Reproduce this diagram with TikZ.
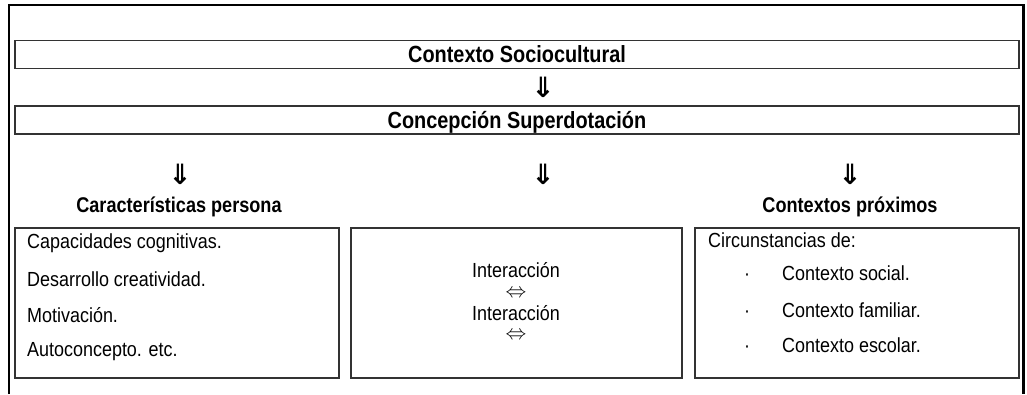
\documentclass[tikz,border=0pt]{standalone}
\usepackage{fontspec}
\setmainfont{Liberation Sans}[FakeStretch=0.88,BoldFeatures={FakeStretch=0.85}]
\newfontfamily\pfeilfont{DejaVu Sans}

\begin{document}
\begin{tikzpicture}[x=1pt,y=-1pt,font=\fontsize{20.4}{23}\selectfont,
    banda/.style={draw=black!80,line width=1.3pt,minimum width=1004pt,minimum height=28pt,
      inner sep=0pt,text height=16pt,text depth=0pt,font=\fontsize{23.4}{26}\selectfont\bfseries},
    caja/.style={draw=black!80,line width=1.3pt,minimum width=#1,minimum height=150pt,inner sep=0pt},
    flecha/.style={inner sep=0pt,font=\pfeilfont\bfseries\fontsize{28}{30}\selectfont},
    doble/.style={inner sep=0pt,font=\fontsize{21}{24}\selectfont},
    titulo/.style={anchor=base,inner sep=0pt,font=\fontsize{21.3}{24}\selectfont\bfseries},
    linea/.style={anchor=base west,inner sep=0pt},
    centro/.style={anchor=base,inner sep=0pt}]
    \useasboundingbox (0,0) rectangle (1027,394);

    % Rahmen (unten offen)
    \draw[line width=2.2pt] (9.3,394) -- (9.3,5) -- (1023.5,5) -- (1023.5,394);

    % Baender oben
    \node[banda] (socio) at (517,54.5) {Contexto Sociocultural};
    \node[flecha] (f0) at (543,87.5) {⇓};
    \node[banda] (concep) at (517,120) {Concepción Superdotación};

    % Pfeile + Spaltentitel
    \node[flecha] (f1) at (180,174) {⇓};
    \node[flecha] (f2) at (543,174) {⇓};
    \node[flecha] (f3) at (850,174) {⇓};
    \node[titulo] (tper) at (179,212) {Características persona};
    \node[titulo] (tctx) at (850,212) {Contextos próximos};

    % Kaesten
    \node[caja=324pt] (persona) at (177,303) {};
    \node[caja=331pt] (inter) at (516.5,303) {};
    \node[caja=324pt] (entorno) at (857,303) {};

    % links: Person
    \node[linea] (p1) at (27,248.5) {Capacidades cognitivas.};
    \node[linea] (p2) at (27,286.5) {Desarrollo creatividad.};
    \node[linea] (p3) at (27,322) {Motivación.};
    \node[linea] (p4) at (27,356) {Autoconcepto. etc.};

    % Mitte: Interaktion
    \node[centro] (i1) at (516,277) {Interacción};
    \node[doble] (d1) at (516,294) {$\Leftrightarrow$};
    \node[centro] (i2) at (516,320) {Interacción};
    \node[doble] (d2) at (516,335.5) {$\Leftrightarrow$};

    % rechts: Kontexte
    \node[linea] (c0) at (708,247) {Circunstancias de:};
    \node[linea] (b1) at (744,280.5) {·};
    \node[linea] (c1) at (782,280.5) {Contexto social.};
    \node[linea] (b2) at (744,317) {·};
    \node[linea] (c2) at (782,317) {Contexto familiar.};
    \node[linea] (b3) at (744,352) {·};
    \node[linea] (c3) at (782,352) {Contexto escolar.};
\end{tikzpicture}
\end{document}
